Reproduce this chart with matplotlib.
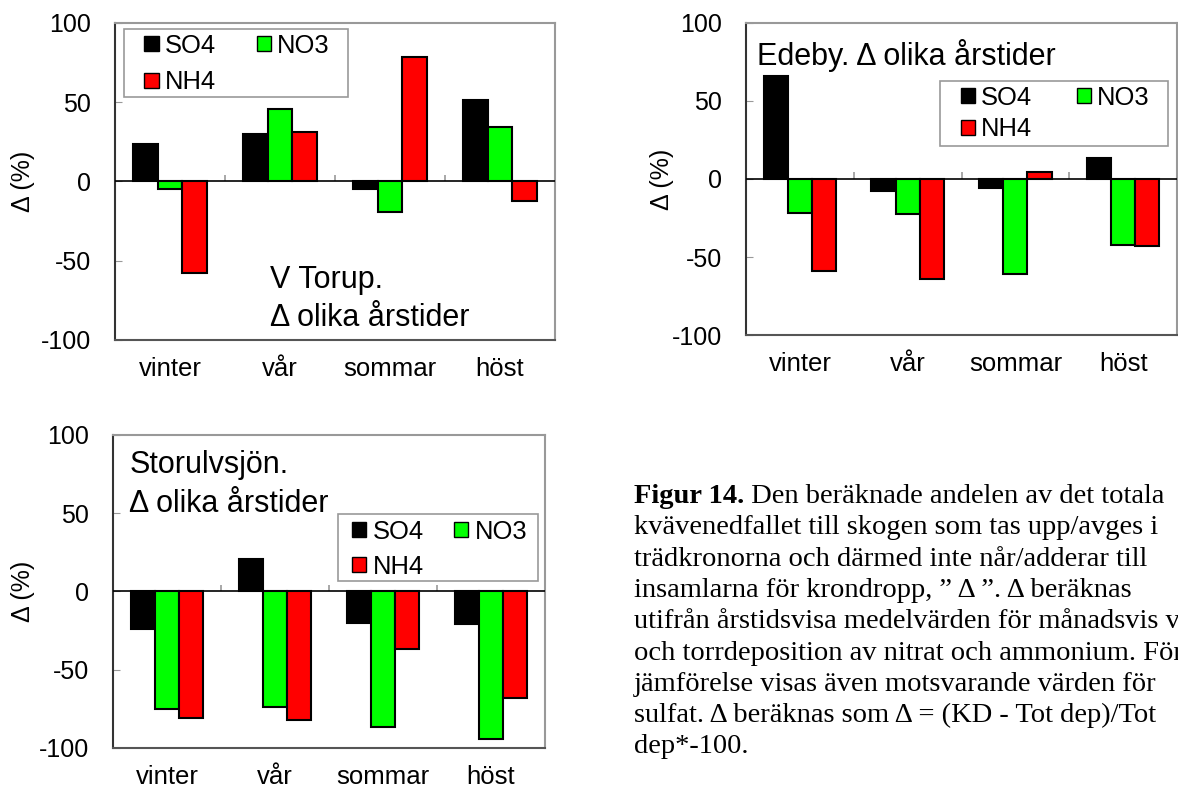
import numpy as np
import matplotlib
matplotlib.use('Agg')
import matplotlib.pyplot as plt
from matplotlib.patches import Patch, Rectangle

plt.rcParams['font.family'] = ['Liberation Sans', 'DejaVu Sans']
plt.rcParams['axes.unicode_minus'] = False

seasons = ['vinter', 'vår', 'sommar', 'höst']
series = ['SO4', 'NO3', 'NH4']
colors = ['#000000', '#00FF00', '#FF0000']

torup_so4 = [23.5, 30, -4.5, 51.5]
torup_no3 = [-4.5, 46, -19.5, 34.5]
torup_nh4 = [-57.5, 31.5, 78.5, -12.5]

edeby_so4 = [66, -8, -6, 13.5]
edeby_no3 = [-22, -22.5, -61, -42.5]
edeby_nh4 = [-59, -64, 4.5, -43]

storulv_so4 = [-24, 20.5, -20, -20.5]
storulv_no3 = [-75, -74, -86.5, -94.5]
storulv_nh4 = [-81, -82, -36.5, -68]

caption_bold = 'Figur 14.'
caption_lines = [
    ' Den beräknade andelen av det totala',
    'kvävenedfallet till skogen som tas upp/avges i',
    'trädkronorna och därmed inte når/adderar till',
    'insamlarna för krondropp, ” Δ ”. Δ beräknas',
    'utifrån årstidsvisa medelvärden för månadsvis våt-',
    'och torrdeposition av nitrat och ammonium. För',
    'jämförelse visas även motsvarande värden för',
    'sulfat. Δ beräknas som Δ = (KD - Tot dep)/Tot',
    'dep*-100.',
]

fig = plt.figure(figsize=(11.78, 7.92), dpi=100)


def draw_panel(rect, values, title, title_xy, box, legend_xy, colsp, labsp,
               ylabel_x):
    ax = fig.add_axes(rect)
    x = np.arange(len(seasons))
    w = 0.225
    for i, (vals, c) in enumerate(zip(values, colors)):
        ax.bar(x + (i - 1) * w, vals, w, color=c, edgecolor='black',
               linewidth=1.5, zorder=3)
    ax.axhline(0, color='black', linewidth=1.2, zorder=4)
    # short category separators standing on the zero line
    ax.vlines(x[:-1] + 0.5, 0, 4.3, color='#999999', linewidth=1.2, zorder=2)
    ax.set_xlim(-0.5, len(seasons) - 0.5)
    ax.set_ylim(-100, 100)
    ax.set_yticks([-100, -50, 0, 50, 100])
    ax.set_xticks(x)
    ax.set_xticklabels(seasons)
    ax.tick_params(axis='x', length=0, pad=12, labelsize=18.5)
    ax.tick_params(axis='y', direction='in', length=5, color='#999999',
                   pad=17, labelsize=18)
    ax.set_ylabel('Δ (%)', fontsize=18)
    ax.yaxis.set_label_coords(ylabel_x, 0.5)
    for side in ['top', 'right']:
        ax.spines[side].set_color('#999999')
    ax.spines['left'].set_color('#333333')
    ax.spines['bottom'].set_color('#555555')
    for s in ax.spines.values():
        s.set_linewidth(1.5)
    ax.text(title_xy[0], title_xy[1], title, transform=ax.transAxes,
            fontsize=22, va='top', ha='left', linespacing=1.35)
    ax.add_patch(Rectangle((box[0], box[1]), box[2], box[3],
                           transform=ax.transAxes, facecolor='white',
                           edgecolor='#999999', linewidth=1.2, zorder=5))
    handles = [Patch(facecolor=colors[0], edgecolor='black', label=series[0]),
               Patch(facecolor=colors[2], edgecolor='black', label=series[2]),
               Patch(facecolor=colors[1], edgecolor='black', label=series[1])]
    leg = ax.legend(handles=handles, ncol=2, loc='upper left',
                    bbox_to_anchor=legend_xy, borderaxespad=0, fontsize=18.4,
                    handlelength=0.55, handleheight=0.55, handletextpad=0.24,
                    columnspacing=colsp, labelspacing=labsp, borderpad=0,
                    frameon=False)
    leg.set_zorder(6)
    return ax


draw_panel([0.09762, 0.57071, 0.37351, 0.40025],
           [torup_so4, torup_no3, torup_nh4],
           'V Torup.\nΔ olika årstider', (0.352, 0.238),
           (0.020, 0.768, 0.510, 0.212), (0.067, 0.966), 1.6, 0.49, -0.182)
draw_panel([0.63328, 0.57702, 0.36587, 0.39394],
           [edeby_so4, edeby_no3, edeby_nh4],
           'Edeby. Δ olika årstider', (0.025, 0.948),
           (0.449, 0.606, 0.529, 0.209), (0.499, 0.799), 1.73, 0.30, -0.167)
draw_panel([0.09593, 0.05556, 0.36672, 0.39520],
           [storulv_so4, storulv_no3, storulv_nh4],
           'Storulvsjön.\nΔ olika årstider', (0.038, 0.9505),
           (0.520, 0.534, 0.464, 0.214), (0.554, 0.729), 1.2, 0.42, -0.18)

# caption
W, H = 1178, 792
cap_x = 634 / W
cap_base = 503
dy = 31.3
cap_size = 20.5
serif = ['Liberation Serif', 'DejaVu Serif']
bold = fig.text(cap_x, 1 - cap_base / H, caption_bold, fontsize=cap_size,
                family=serif, weight='bold', va='baseline', ha='left')
fig.canvas.draw()
x_end = bold.get_window_extent(fig.canvas.get_renderer()).x1 / W
fig.text(x_end, 1 - cap_base / H, caption_lines[0], fontsize=cap_size,
         family=serif, va='baseline', ha='left')
for i, line in enumerate(caption_lines[1:], start=1):
    fig.text(cap_x, 1 - (cap_base + i * dy) / H, line, fontsize=cap_size,
             family=serif, va='baseline', ha='left')

fig.savefig('out.png', dpi=100)
